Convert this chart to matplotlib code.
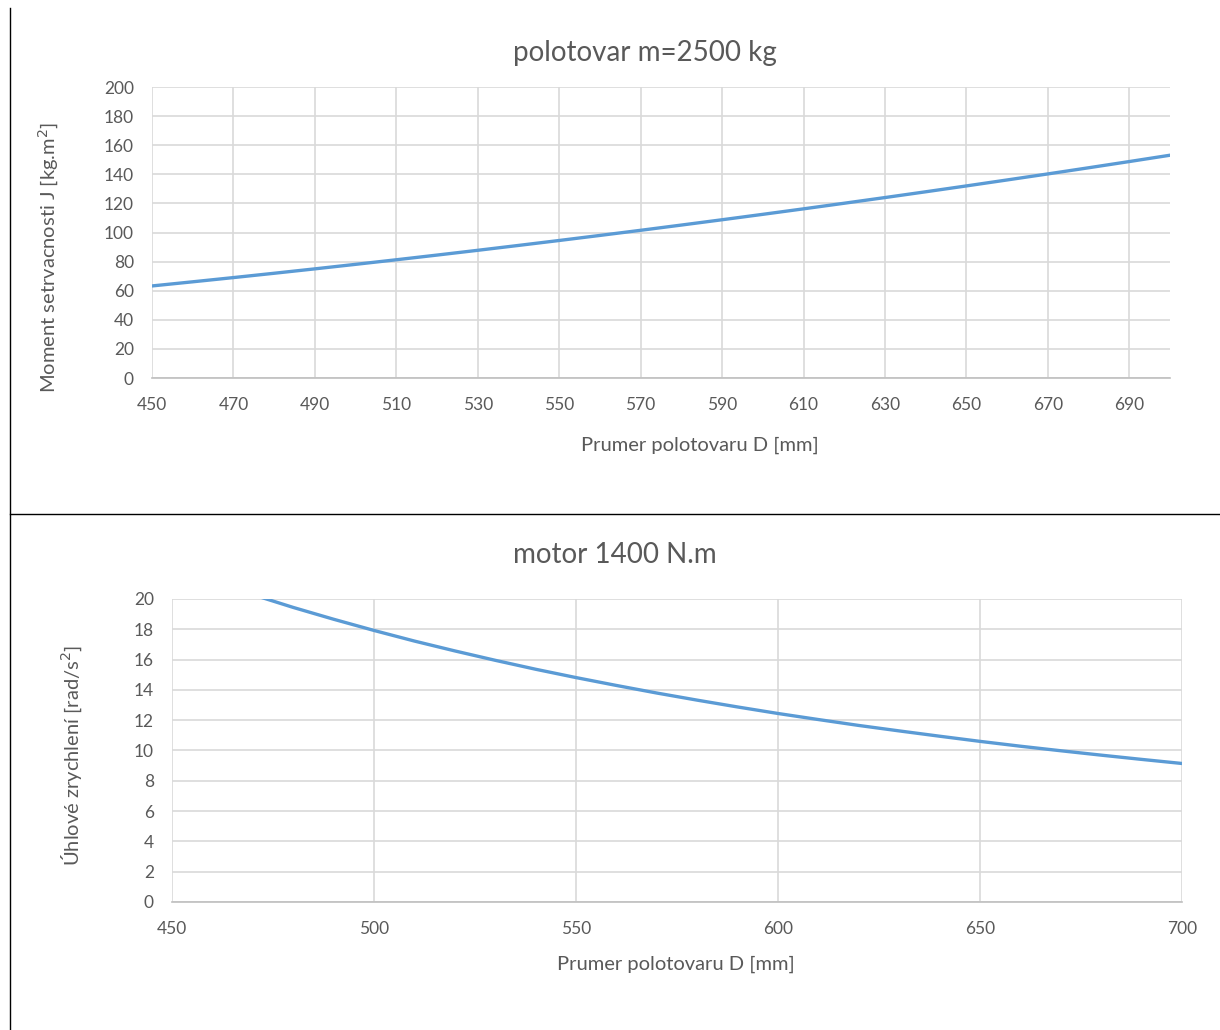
import matplotlib.pyplot as plt
from matplotlib.lines import Line2D

# data
D_top = [450, 460, 470, 480, 490, 500, 510, 520, 530, 540, 550, 560, 570,
         580, 590, 600, 610, 620, 630, 640, 650, 660, 670, 680, 690, 700]
J_top = [63.28, 66.13, 69.03, 72.0, 75.03, 78.13, 81.28, 84.5, 87.78, 91.13,
         94.53, 98.0, 101.53, 105.13, 108.78, 112.5, 116.28, 120.13, 124.03,
         128.0, 132.03, 136.13, 140.28, 144.5, 148.78, 153.13]
top_xticks = [450, 470, 490, 510, 530, 550, 570, 590, 610, 630, 650, 670, 690]
top_yticks = [0, 20, 40, 60, 80, 100, 120, 140, 160, 180, 200]

D_bot = D_top
eps_bot = [22.12, 21.17, 20.28, 19.44, 18.66, 17.92, 17.22, 16.57, 15.95,
           15.36, 14.81, 14.29, 13.79, 13.32, 12.87, 12.44, 12.04, 11.65,
           11.29, 10.94, 10.60, 10.28, 9.98, 9.69, 9.41, 9.14]
bot_xticks = [450, 500, 550, 600, 650, 700]
bot_yticks = [0, 2, 4, 6, 8, 10, 12, 14, 16, 18, 20]

plt.rcParams['font.family'] = ['Lato', 'DejaVu Sans']
TXT = '#595959'
GRID = '#d9d9d9'
BLUE = '#5b9bd5'


def style(ax, xticks, yticks, xlim, ylim):
    ax.set_xlim(*xlim)
    ax.set_ylim(*ylim)
    ax.set_xticks(xticks)
    ax.set_yticks(yticks)
    ax.grid(True, color=GRID, linewidth=1.2)
    ax.set_axisbelow(True)
    for s in ['top', 'right', 'left']:
        ax.spines[s].set_visible(False)
    ax.spines['bottom'].set_color('#bfbfbf')
    ax.spines['bottom'].set_linewidth(1.2)
    ax.tick_params(length=0, labelsize=12.5, labelcolor=TXT)
    ax.tick_params(axis='x', pad=14)
    ax.tick_params(axis='y', pad=13)


fig = plt.figure(figsize=(12.2, 10.3), dpi=100)

ax1 = fig.add_axes([0.1246, 0.633, 0.8344, 0.2825])
ax1.plot(D_top, J_top, color=BLUE, linewidth=2.4, solid_joinstyle='round')
style(ax1, top_xticks, top_yticks, (450, 700), (0, 200))
ax1.set_xlabel('Prumer polotovaru D [mm]', fontsize=14.5, color=TXT)
ax1.set_ylabel('Moment setrvacnosti J [kg.m$^2$]', fontsize=14.5, color=TXT)
ax1.xaxis.set_label_coords(0.538, -0.203)
ax1.yaxis.set_label_coords(-0.089, 0.416)
fig.text(645 / 1220, 1 - 53 / 1030, 'polotovar m=2500 kg', fontsize=20,
         color=TXT, ha='center', va='center')

ax2 = fig.add_axes([0.141, 0.1243, 0.8279, 0.2942])
ax2.plot(D_bot, eps_bot, color=BLUE, linewidth=2.4, solid_joinstyle='round')
style(ax2, bot_xticks, bot_yticks, (450, 700), (0, 20))
ax2.set_xlabel('Prumer polotovaru D [mm]', fontsize=14.5, color=TXT)
ax2.set_ylabel('Úhlové zrychlení [rad/s$^2$]', fontsize=14.5, color=TXT)
ax2.xaxis.set_label_coords(0.499, -0.178)
ax2.yaxis.set_label_coords(-0.087, 0.485)
fig.text(615 / 1220, 1 - 555 / 1030, 'motor 1400 N.m', fontsize=20,
         color=TXT, ha='center', va='center')

# page borders
fig.add_artist(Line2D([9.5 / 1220, 9.5 / 1220], [0, 1 - 8 / 1030],
                      transform=fig.transFigure, color='black', linewidth=1))
fig.add_artist(Line2D([9.5 / 1220, 1], [1 - 514 / 1030, 1 - 514 / 1030],
                      transform=fig.transFigure, color='black', linewidth=1))

plt.savefig('out.png', dpi=100)
